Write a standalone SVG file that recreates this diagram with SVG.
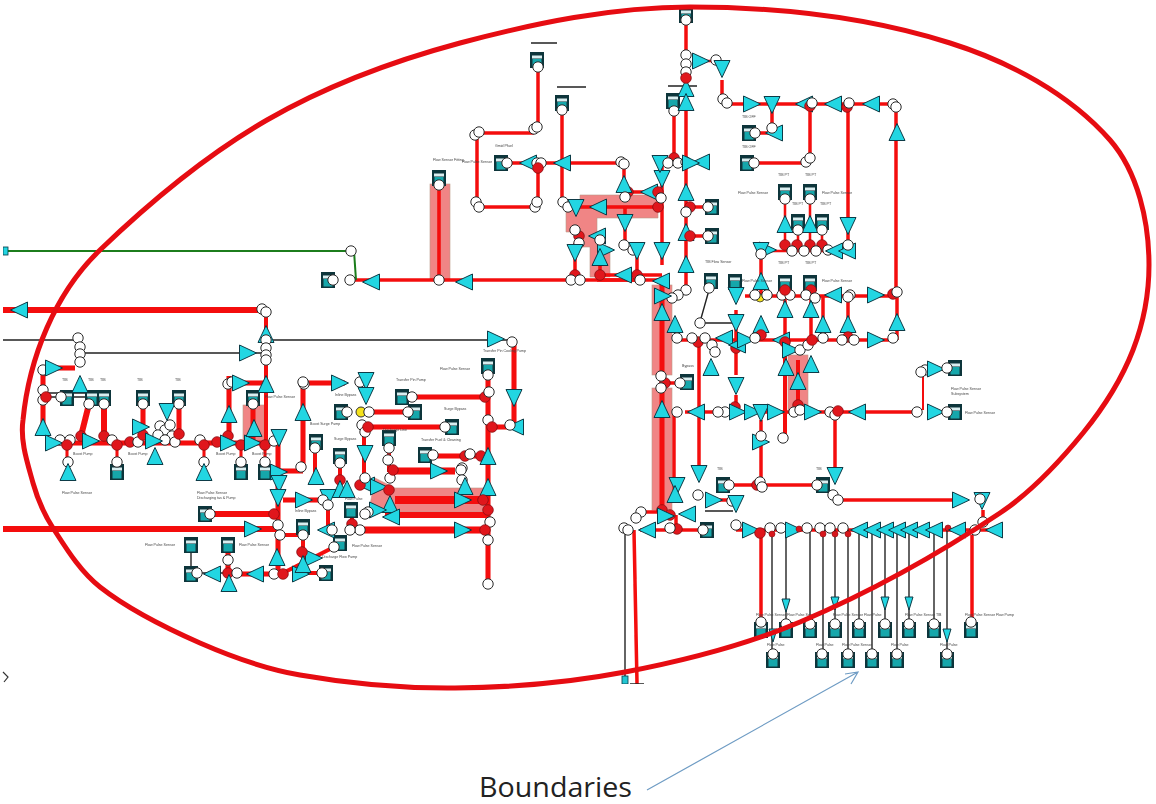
<svg xmlns="http://www.w3.org/2000/svg" width="1156" height="804" viewBox="0 0 1156 804">
<style>
.l{fill:none;stroke:#f40a0a;stroke-linecap:butt}
.k{fill:none;stroke:#222;stroke-width:1.4}
.z{fill:#f08585;stroke:#b98;stroke-width:.6}
.t{font-family:"Liberation Sans",sans-serif;font-size:3.6px;fill:#444}
</style>
<defs>
<filter id="soft" x="0" y="0" width="1" height="1" filterUnits="objectBoundingBox"><feGaussianBlur stdDeviation="0.4"/></filter>
<g id="tu"><path d="M0,-9.5 L8,7.5 L-8,7.5 Z" fill="#22d6e2" stroke="#0e3b46" stroke-width="1"/></g>
<g id="td"><path d="M0,9.5 L8,-7.5 L-8,-7.5 Z" fill="#22d6e2" stroke="#0e3b46" stroke-width="1"/></g>
<g id="tl"><path d="M-9.5,0 L7.5,-8 L7.5,8 Z" fill="#22d6e2" stroke="#0e3b46" stroke-width="1"/></g>
<g id="tr"><path d="M9.5,0 L-7.5,-8 L-7.5,8 Z" fill="#22d6e2" stroke="#0e3b46" stroke-width="1"/></g>
<g id="tn"><path d="M0,7 L4,-6 L-4,-6 Z" fill="#22d6e2" stroke="#0e3b46" stroke-width="1"/></g>
<circle id="o" r="5.2" fill="#fff" stroke="#2a2a2a" stroke-width="1"/>
<circle id="r" r="5.3" fill="#e0141a" stroke="#8a1015" stroke-width=".8"/>
<circle id="s" r="3" fill="#d8141a" stroke="#8a1015" stroke-width=".6"/>
<g id="b"><rect x="-7" y="-8" width="14" height="16" fill="#10343b"/><rect x="-5" y="-4.5" width="10" height="3" fill="#d9eef0"/><rect x="-4.5" y="-1" width="9" height="7.5" fill="#16a7ab"/></g>
</defs>
<rect width="1156" height="804" fill="#fff"/>
<g filter="url(#soft)">
<g id="zones">
<rect class="z" x="243" y="405" width="21" height="38"/>
<path class="z" d="M375,478 L395,488 L485,488 L485,512 L395,512 L370,505 Z"/>
<rect class="z" x="430" y="184" width="20" height="96"/>
<path class="z" d="M580,195 H658 V218 H597 V247 H610 V277 H590 V247 H577 V232 H566 V210 H580 Z"/>
<rect class="z" x="652" y="285" width="20" height="90"/>
<rect class="z" x="652" y="388" width="20" height="122"/>
<rect class="z" x="788" y="355" width="20" height="55"/>
</g>
<g id="connectors">
<path class="l" stroke-width="6" d="M3,310 H262"/>
<path class="l" stroke-width="4" d="M266,312 V440"/>
<path class="k" d="M3,340 H78 M84,353 H262 M268,340 H510"/>
<path class="l" stroke-width="5" d="M43,368 H75 M43,370 V430"/>
<path class="k" d="M46,397 H90 M46,393 H90"/>
<path class="l" stroke-width="5" d="M55,443 H280 M143,404 V432 M179,404 V432 M229,376 V436 M245,383 H265 M253,404 V440 M278,440 V575"/>
<path class="l" stroke-width="6" d="M104,404 V436 M89,404 L81,436"/>
<path class="l" stroke-width="3" d="M67,445 V465 M117,445 V465 M204,445 V465 M241,445 V465 M265,445 V465"/>
<path class="l" stroke-width="6" d="M210,514 H275 M3,529 H280"/>
<path class="k" d="M191,550 V572 M197,573 H225"/>
<path class="l" stroke-width="5" d="M228,550 V572 M237,574 H283"/>
<path class="l" stroke-width="5" d="M303,383 H345 M303,383 V470 M280,471 H303"/>
<path class="l" stroke-width="5" d="M366,412 H408 M410,397 H485 M368,427 H445 M433,456 H485 M488,366 V585 M514,342 V425 M492,427 H510 M283,500 H323"/>
<path class="l" stroke-width="4" d="M364,432 V480 M389,450 V472 M315,450 V480 M340,463 V485 M328,505 V530 M352,512 V525 M303,535 V575 M338,545 L285,572 M298,573 H322 M278,535 H305"/>
<path class="l" stroke-width="7" d="M393,471 H455"/>
<path class="l" stroke-width="8" d="M395,500 H485"/>
<path class="l" stroke-width="6" d="M385,515 H490"/>
<path class="l" stroke-width="7" d="M360,530 H485"/>
<path class="l" stroke-width="3.5" d="M538,68 V125 M534,133 H478 M562,110 V205 M568,207 H657 M350,280 H660 M439,180 V280"/>
<path class="l" stroke-width="3.5" d="M477,135 V203 M479,207 H535 M538,205 V163 M507,163 H622 M624,164 V190 M628,192 H658 M625,207 V245 M637,250 V275 M575,243 V280 M600,240 V275 M674,111 V158 M662,165 V265 M686,20 V290 M722,80 V100 M727,104 H896 M896,107 V295 M810,106 V160 M754,163 H808 M755,133 H772 M772,110 V130 M848,107 V240 M579,236 V245 M600,275 H662 M597,280 H637 M690,207 H705 M690,236 H705"/>
<path class="l" stroke-width="2.5" d="M700,61 H716 M757,251 H848 M785,200 V245 M810,200 V245 M798,230 V245 M822,230 V245"/>
<path class="k" d="M709,290 L700,322 M700,323 H733"/>
<path class="l" stroke-width="3.5" d="M761,252 V295 M745,296 H896 M785,295 V340 M811,295 V340 M823,295 V340 M848,295 V340 M677,340 H897 M897,295 V340 M736,310 V375 M736,395 V407 M685,412 H735 M745,412 H915 M674,412 V490 M699,342 V465 M720,500 H733 M761,420 V480 M730,485 H820 M835,415 V480 M838,500 H965 M983,510 V522 M846,412 H915"/>
<path class="l" stroke-width="4" d="M785,438 V342 M798,360 V405"/>
<path class="l" stroke-width="5" d="M662,280 V505"/>
<path class="l" stroke-width="3.5" d="M665,383 H685 M640,530 H700 M634,530 L637,684 M736,530 H1000 M641,512 H662 M676,530 V515"/>
<path class="k" d="M625,530 V678 M630,684 H644"/>
<path class="l" stroke-width="3.5" d="M761,535 V625 M972,535 V625"/>
<path class="k" d="M772,530 V655 M786,530 V625 M810,530 V625 M823,530 V655 M835,530 V625 M848,530 V655 M859,530 V625 M872,530 V655 M885,530 V625 M897,530 V655 M909,530 V625 M934,530 V625 M947,530 V655"/>
<path d="M3,251 H350 M354,251 L356,280" fill="none" stroke="#1a7d1a" stroke-width="2"/>
<path class="k" d="M531,43 H557 M557,87 H586 M668,86 H697 M705,511 H733"/>
<path class="l" stroke-width="2" d="M925,372 L947,368 M923,375 V410 M930,412 H947"/>
</g>
<g id="n1"><use href="#b" x="67" y="398"/></g><g id="n2"><use href="#b" x="92" y="398"/></g><g id="n3"><use href="#b" x="104" y="398"/></g><g id="n4"><use href="#b" x="143" y="398"/></g><g id="n5"><use href="#b" x="179" y="398"/></g><g id="n6"><use href="#b" x="253" y="398"/></g>
<g id="n7"><use href="#b" x="117" y="472"/></g><g id="n8"><use href="#b" x="241" y="472"/></g><g id="n9"><use href="#b" x="265" y="472"/></g><g id="n10"><use href="#b" x="205" y="514"/></g>
<g id="n11"><use href="#b" x="191" y="545"/></g><g id="n12"><use href="#b" x="191" y="574"/></g><g id="n13"><use href="#b" x="228" y="545"/></g>
<g id="n14"><use href="#b" x="341" y="412"/></g><g id="n15"><use href="#b" x="402" y="397"/></g><g id="n16"><use href="#b" x="415" y="412"/></g><g id="n17"><use href="#b" x="452" y="427"/></g><g id="n18"><use href="#b" x="425" y="455"/></g><g id="n19"><use href="#b" x="488" y="366"/></g>
<g id="n20"><use href="#b" x="389" y="438"/></g><g id="n21"><use href="#b" x="316" y="442"/></g><g id="n22"><use href="#b" x="340" y="456"/></g><g id="n23"><use href="#b" x="351" y="510"/></g><g id="n24"><use href="#b" x="303" y="527"/></g><g id="n25"><use href="#b" x="340" y="543"/></g><g id="n26"><use href="#b" x="326" y="573"/></g>
<g id="n27"><use href="#b" x="439" y="178"/></g><g id="n28"><use href="#b" x="537" y="60"/></g><g id="n29"><use href="#b" x="562" y="103"/></g><g id="n30"><use href="#b" x="501" y="163"/></g><g id="n31"><use href="#b" x="673" y="101"/></g><g id="n32"><use href="#b" x="686" y="15"/></g><g id="n33"><use href="#b" x="328" y="280"/></g>
<g id="n34"><use href="#b" x="749" y="133"/></g><g id="n35"><use href="#b" x="747" y="163"/></g><g id="n36"><use href="#b" x="785" y="192"/></g><g id="n37"><use href="#b" x="810" y="192"/></g><g id="n38"><use href="#b" x="798" y="222"/></g><g id="n39"><use href="#b" x="822" y="222"/></g>
<g id="n40"><use href="#b" x="711" y="281"/></g><g id="n41"><use href="#b" x="735" y="282"/></g><g id="n42"><use href="#b" x="785" y="283"/></g><g id="n43"><use href="#b" x="810" y="283"/></g>
<g id="n44"><use href="#b" x="687" y="382"/></g><g id="n45"><use href="#b" x="723" y="485"/></g><g id="n46"><use href="#b" x="823" y="485"/></g><g id="n47"><use href="#b" x="707" y="530"/></g>
<g id="n48"><use href="#b" x="955" y="368"/></g><g id="n49"><use href="#b" x="955" y="412"/></g>
<g id="n50"><use href="#b" x="761" y="630"/></g><g id="n51"><use href="#b" x="786" y="630"/></g><g id="n52"><use href="#b" x="810" y="630"/></g><g id="n53"><use href="#b" x="835" y="630"/></g><g id="n54"><use href="#b" x="859" y="630"/></g><g id="n55"><use href="#b" x="885" y="630"/></g><g id="n56"><use href="#b" x="909" y="630"/></g><g id="n57"><use href="#b" x="934" y="630"/></g><g id="n58"><use href="#b" x="971" y="630"/></g>
<g id="n59"><use href="#b" x="773" y="660"/></g><g id="n60"><use href="#b" x="822" y="660"/></g><g id="n61"><use href="#b" x="848" y="660"/></g><g id="n62"><use href="#b" x="872" y="660"/></g><g id="n63"><use href="#b" x="897" y="660"/></g><g id="n64"><use href="#b" x="947" y="660"/></g>
<g id="n65"><use href="#b" x="712" y="207"/></g><g id="n66"><use href="#b" x="712" y="236"/></g>
<g id="valves-left">
<use href="#tl" x="20" y="310"/>
<use href="#o" x="262" y="309"/><use href="#o" x="266" y="312"/>
<use href="#o" x="78" y="338"/><use href="#o" x="80" y="347"/><use href="#o" x="80" y="354"/><use href="#o" x="80" y="362"/>
<use href="#tr" x="247" y="353"/>
<use href="#tu" x="266" y="335"/><use href="#o" x="266" y="340"/><use href="#o" x="266" y="348"/><use href="#o" x="266" y="355"/><use href="#o" x="266" y="360"/>
<use href="#o" x="43" y="370"/><use href="#tr" x="53" y="368"/><use href="#tu" x="80" y="385"/>
<use href="#o" x="43" y="390"/><use href="#o" x="43" y="400"/><use href="#r" x="46" y="397"/><use href="#o" x="61" y="397"/>
<use href="#tu" x="43" y="428"/>
<use href="#o" x="60" y="440"/><use href="#o" x="70" y="440"/><use href="#tr" x="53" y="443"/><use href="#r" x="67" y="445"/><use href="#r" x="81" y="436"/>
<use href="#tr" x="90" y="441"/><use href="#r" x="104" y="436"/><use href="#o" x="112" y="440"/><use href="#r" x="117" y="445"/><use href="#r" x="130" y="442"/>
<use href="#o" x="138" y="442"/><use href="#r" x="143" y="435"/><use href="#tr" x="140" y="427"/>
<use href="#o" x="160" y="426"/><use href="#o" x="165" y="430"/><use href="#o" x="158" y="435"/><use href="#o" x="170" y="425"/><use href="#o" x="172" y="436"/><use href="#o" x="165" y="440"/>
<use href="#td" x="167" y="411"/><use href="#tr" x="153" y="441"/><use href="#tu" x="155" y="457"/>
<use href="#o" x="175" y="442"/><use href="#r" x="179" y="434"/>
<use href="#o" x="200" y="440"/><use href="#r" x="204" y="445"/><use href="#r" x="217" y="442"/><use href="#r" x="228" y="436"/><use href="#tr" x="228" y="443"/><use href="#r" x="241" y="445"/><use href="#tr" x="252" y="443"/><use href="#r" x="265" y="445"/><use href="#o" x="274" y="441"/>
<use href="#o" x="68" y="462"/><use href="#tu" x="68" y="473"/><use href="#o" x="117" y="462"/><use href="#o" x="204" y="462"/><use href="#tu" x="204" y="473"/><use href="#o" x="241" y="462"/><use href="#o" x="265" y="462"/>
<use href="#o" x="143" y="404"/><use href="#o" x="179" y="404"/><use href="#o" x="89" y="404"/><use href="#o" x="104" y="404"/>
<use href="#tu" x="229" y="415"/><use href="#o" x="228" y="384"/><use href="#o" x="232" y="382"/><use href="#tr" x="240" y="383"/><use href="#tu" x="266" y="385"/><use href="#o" x="253" y="404"/><use href="#tu" x="254" y="429"/>
<use href="#td" x="279" y="437"/><use href="#tr" x="278" y="472"/><use href="#td" x="279" y="483"/><use href="#td" x="278" y="497"/><use href="#r" x="274" y="514"/><use href="#o" x="278" y="525"/><use href="#o" x="280" y="535"/><use href="#tu" x="277" y="558"/>
<use href="#tr" x="252" y="529"/><use href="#o" x="210" y="514"/>
<use href="#tl" x="213" y="574"/><use href="#o" x="197" y="573"/><use href="#o" x="228" y="560"/><use href="#r" x="228" y="573"/><use href="#o" x="237" y="573"/><use href="#tu" x="229" y="584"/><use href="#tl" x="256" y="574"/><use href="#o" x="274" y="574"/><use href="#r" x="283" y="574"/>
</g>
<g id="valves-centre">
<use href="#o" x="304" y="384"/><use href="#o" x="303" y="382"/><use href="#tr" x="339" y="383"/><use href="#tu" x="303" y="413"/><use href="#o" x="301" y="467"/>
<use href="#o" x="360" y="382"/><use href="#td" x="366" y="380"/><use href="#td" x="366" y="395"/>
<use href="#o" x="347" y="412"/><circle cx="361" cy="412" r="5" fill="#f4e21e" stroke="#333"/><use href="#o" x="369" y="412"/><use href="#o" x="408" y="412"/>
<use href="#o" x="412" y="397"/><use href="#r" x="485" y="397"/><use href="#o" x="489" y="392"/>
<use href="#o" x="362" y="425"/><use href="#o" x="365" y="432"/><use href="#r" x="368" y="427"/><use href="#o" x="445" y="427"/>
<use href="#td" x="365" y="453"/><use href="#o" x="389" y="448"/><use href="#o" x="388" y="460"/><use href="#o" x="390" y="478"/><use href="#r" x="393" y="470"/><use href="#tr" x="438" y="471"/>
<use href="#o" x="462" y="468"/><use href="#o" x="461" y="470"/><use href="#o" x="462" y="480"/>
<use href="#o" x="433" y="455"/><use href="#r" x="465" y="456"/><use href="#o" x="470" y="454"/><use href="#r" x="481" y="456"/>
<use href="#tu" x="465" y="487"/><use href="#tr" x="462" y="500"/>
<use href="#o" x="488" y="375"/><use href="#o" x="488" y="420"/><use href="#r" x="492" y="427"/><use href="#tu" x="488" y="457"/><use href="#tu" x="488" y="488"/><use href="#r" x="483" y="500"/><use href="#r" x="488" y="510"/><use href="#o" x="490" y="522"/><use href="#r" x="485" y="530"/><use href="#o" x="488" y="540"/><use href="#o" x="488" y="584"/>
<use href="#td" x="514" y="397"/><use href="#tl" x="516" y="427"/><use href="#o" x="510" y="425"/>
<use href="#o" x="512" y="342"/><use href="#tr" x="495" y="339"/>
<use href="#o" x="315" y="448"/><use href="#tu" x="316" y="477"/><use href="#o" x="340" y="463"/><use href="#r" x="340" y="480"/><use href="#tu" x="340" y="490"/><use href="#tu" x="347" y="490"/>
<use href="#td" x="328" y="497"/><use href="#o" x="323" y="500"/><use href="#o" x="328" y="505"/><use href="#tr" x="303" y="500"/>
<use href="#tl" x="327" y="530"/><use href="#o" x="332" y="530"/><use href="#r" x="352" y="524"/><use href="#o" x="360" y="530"/><use href="#o" x="350" y="530"/>
<use href="#tl" x="367" y="485"/><use href="#tr" x="378" y="487"/><use href="#r" x="360" y="485"/><use href="#o" x="365" y="478"/>
<use href="#tu" x="390" y="505"/><use href="#tr" x="377" y="510"/><use href="#o" x="368" y="512"/><use href="#o" x="365" y="514"/><use href="#tl" x="392" y="517"/><use href="#r" x="389" y="490"/>
<use href="#tr" x="462" y="530"/>
<use href="#o" x="334" y="547"/><use href="#o" x="322" y="573"/><use href="#tr" x="300" y="574"/><use href="#tr" x="313" y="558"/><use href="#r" x="302" y="552"/><use href="#o" x="303" y="535"/><use href="#tu" x="303" y="565"/>
</g>
<g id="valves-top">
<use href="#o" x="333" y="280"/><use href="#o" x="350" y="280"/><use href="#o" x="351" y="251"/><rect x="3" y="247" width="5" height="8" fill="#22d6e2" stroke="#0e3b46" stroke-width=".8"/><use href="#tl" x="372" y="282"/><use href="#o" x="439" y="185"/><use href="#o" x="439" y="280"/><use href="#tl" x="465" y="282"/>
<use href="#o" x="538" y="67"/><use href="#o" x="534" y="129"/><use href="#o" x="537" y="127"/><use href="#o" x="475" y="135"/><use href="#o" x="479" y="132"/><use href="#o" x="476" y="202"/><use href="#o" x="479" y="207"/><use href="#o" x="535" y="207"/><use href="#o" x="537" y="202"/>
<use href="#o" x="507" y="163"/><use href="#tl" x="529" y="163"/><use href="#o" x="537" y="163"/><use href="#o" x="541" y="163"/><use href="#r" x="538" y="168"/><use href="#tl" x="563" y="163"/><use href="#o" x="621" y="162"/><use href="#o" x="624" y="164"/>
<use href="#o" x="562" y="110"/><use href="#o" x="563" y="202"/><use href="#o" x="568" y="207"/><use href="#td" x="576" y="207"/><use href="#tl" x="599" y="207"/>
<use href="#tl" x="650" y="192"/><use href="#r" x="628" y="192"/><use href="#r" x="658" y="192"/><use href="#tu" x="624" y="185"/><use href="#o" x="625" y="197"/><use href="#r" x="658" y="207"/><use href="#o" x="661" y="198"/>
<use href="#td" x="625" y="222"/><use href="#o" x="624" y="245"/><use href="#o" x="633" y="250"/><use href="#td" x="637" y="250"/><use href="#tr" x="605" y="250"/>
<use href="#r" x="637" y="275"/><use href="#o" x="640" y="280"/><use href="#tl" x="624" y="275"/>
<use href="#r" x="579" y="236"/><use href="#o" x="575" y="230"/><use href="#o" x="579" y="243"/><use href="#td" x="575" y="252"/><use href="#r" x="575" y="275"/><use href="#o" x="571" y="280"/><use href="#o" x="580" y="280"/>
<use href="#r" x="600" y="275"/><use href="#tu" x="600" y="258"/><use href="#tl" x="598" y="236"/><use href="#o" x="600" y="240"/>
<use href="#td" x="662" y="250"/><use href="#td" x="662" y="178"/><use href="#td" x="660" y="163"/><use href="#r" x="674" y="158"/><use href="#o" x="674" y="111"/>
<use href="#o" x="668" y="163"/><use href="#o" x="678" y="163"/><use href="#o" x="686" y="162"/><use href="#tl" x="702" y="162"/><use href="#tr" x="690" y="163"/>
<use href="#tu" x="686" y="89"/><use href="#tu" x="686" y="103"/><use href="#o" x="686" y="20"/><use href="#o" x="686" y="55"/><use href="#o" x="686" y="64"/><use href="#o" x="686" y="72"/><use href="#tr" x="700" y="61"/><use href="#o" x="716" y="60"/><use href="#td" x="722" y="68"/><use href="#r" x="686" y="78"/>
<use href="#tu" x="686" y="193"/><use href="#r" x="690" y="207"/><use href="#o" x="686" y="212"/><use href="#o" x="708" y="207"/>
<use href="#tu" x="686" y="233"/><use href="#r" x="690" y="236"/><use href="#o" x="708" y="236"/>
<use href="#tu" x="686" y="265"/><use href="#o" x="686" y="290"/><use href="#o" x="678" y="295"/><use href="#o" x="672" y="298"/>
<use href="#tl" x="662" y="281"/><use href="#tr" x="662" y="296"/><use href="#tu" x="662" y="313"/><use href="#tu" x="675" y="325"/>
</g>
<g id="valves-right">
<use href="#o" x="723" y="99"/><use href="#o" x="727" y="103"/><use href="#tr" x="751" y="104"/><use href="#td" x="772" y="104"/><use href="#tl" x="805" y="104"/><use href="#r" x="810" y="106"/><use href="#o" x="812" y="103"/><use href="#tl" x="834" y="104"/><use href="#r" x="847" y="107"/><use href="#o" x="849" y="103"/><use href="#tl" x="872" y="104"/><use href="#o" x="893" y="104"/><use href="#o" x="896" y="107"/>
<use href="#tu" x="897" y="133"/><use href="#o" x="754" y="163"/><use href="#o" x="755" y="133"/><use href="#tl" x="775" y="133"/><use href="#o" x="772" y="128"/><use href="#o" x="806" y="162"/><use href="#o" x="810" y="158"/>
<use href="#td" x="848" y="225"/><use href="#tr" x="767" y="250"/><use href="#td" x="761" y="250"/><use href="#o" x="761" y="254"/>
<use href="#r" x="785" y="245"/><use href="#r" x="797" y="245"/><use href="#r" x="810" y="245"/><use href="#r" x="822" y="245"/><use href="#o" x="792" y="251"/><use href="#o" x="804" y="251"/><use href="#o" x="816" y="251"/><use href="#o" x="828" y="250"/><use href="#tl" x="835" y="251"/><use href="#tl" x="848" y="251"/><use href="#o" x="848" y="245"/>
<use href="#tu" x="785" y="225"/><use href="#tu" x="810" y="225"/><use href="#o" x="785" y="199"/><use href="#o" x="810" y="199"/>
<use href="#o" x="798" y="230"/><use href="#o" x="822" y="230"/>
<use href="#tu" x="761" y="282"/><use href="#td" x="736" y="295"/><use href="#o" x="709" y="288"/><use href="#o" x="700" y="323"/>
<circle cx="760" cy="298" r="4" fill="#f4e21e" stroke="#333" stroke-width=".8"/><use href="#o" x="755" y="295"/><use href="#o" x="767" y="295"/><use href="#o" x="782" y="295"/><use href="#o" x="790" y="295"/><use href="#r" x="785" y="290"/><use href="#r" x="811" y="290"/><use href="#o" x="806" y="295"/><use href="#o" x="815" y="298"/><use href="#tl" x="834" y="295"/><use href="#o" x="850" y="295"/><use href="#o" x="848" y="297"/><use href="#tr" x="875" y="295"/><use href="#r" x="893" y="294"/><use href="#o" x="897" y="292"/>
<use href="#tu" x="785" y="310"/><use href="#tu" x="811" y="310"/>
<use href="#tu" x="761" y="325"/><use href="#r" x="761" y="335"/><use href="#tu" x="823" y="325"/><use href="#tu" x="848" y="325"/><use href="#r" x="848" y="337"/><use href="#tu" x="897" y="323"/><use href="#o" x="893" y="338"/><use href="#tr" x="875" y="340"/><use href="#o" x="842" y="340"/><use href="#o" x="854" y="340"/><use href="#o" x="823" y="338"/>
<use href="#o" x="677" y="338"/><use href="#r" x="698" y="342"/><use href="#o" x="692" y="338"/><use href="#o" x="705" y="338"/><use href="#tl" x="725" y="338"/><use href="#td" x="736" y="322"/><use href="#r" x="736" y="348"/><use href="#o" x="712" y="345"/><use href="#o" x="715" y="352"/><use href="#tu" x="711" y="368"/><use href="#tl" x="738" y="345"/>
<use href="#tr" x="745" y="340"/><use href="#o" x="755" y="338"/><use href="#tl" x="782" y="340"/><use href="#r" x="785" y="342"/><use href="#tr" x="790" y="350"/><use href="#o" x="800" y="350"/><use href="#o" x="808" y="345"/><use href="#r" x="812" y="340"/><use href="#tu" x="786" y="368"/><use href="#tu" x="811" y="365"/><use href="#tu" x="798" y="382"/><use href="#r" x="798" y="405"/>
<use href="#td" x="736" y="385"/><use href="#r" x="735" y="407"/><use href="#o" x="725" y="412"/><use href="#o" x="718" y="412"/><use href="#tr" x="737" y="412"/><use href="#tl" x="697" y="412"/><use href="#o" x="677" y="412"/><use href="#tr" x="752" y="412"/><use href="#td" x="761" y="412"/><use href="#tr" x="775" y="412"/><use href="#o" x="794" y="412"/><use href="#o" x="800" y="410"/><use href="#tr" x="812" y="412"/><use href="#o" x="830" y="412"/><use href="#o" x="835" y="415"/><use href="#r" x="838" y="411"/><use href="#tl" x="858" y="412"/><use href="#o" x="917" y="412"/>
<use href="#tr" x="760" y="442"/><use href="#o" x="783" y="438"/><use href="#o" x="761" y="436"/>
<use href="#tr" x="935" y="412"/><use href="#o" x="947" y="412"/><use href="#o" x="925" y="370"/><use href="#o" x="921" y="372"/><use href="#tr" x="935" y="369"/><use href="#o" x="947" y="368"/>
<use href="#td" x="699" y="473"/><use href="#td" x="835" y="475"/><use href="#o" x="833" y="495"/><use href="#o" x="838" y="500"/><use href="#tr" x="960" y="500"/><use href="#td" x="982" y="500"/><use href="#o" x="980" y="499"/>
<use href="#o" x="729" y="485"/><use href="#r" x="757" y="485"/><use href="#o" x="760" y="482"/><use href="#o" x="762" y="487"/><use href="#o" x="817" y="485"/>
<use href="#o" x="698" y="495"/><use href="#tr" x="713" y="500"/><use href="#o" x="732" y="501"/><use href="#td" x="736" y="503"/>
<use href="#tu" x="662" y="410"/><use href="#r" x="665" y="383"/><use href="#o" x="661" y="376"/><use href="#o" x="661" y="388"/><use href="#o" x="680" y="383"/>
<use href="#td" x="677" y="485"/><use href="#tu" x="675" y="495"/>
</g>
<g id="valves-bottom">
<use href="#o" x="641" y="512"/><use href="#o" x="636" y="518"/><use href="#o" x="624" y="528"/><use href="#o" x="628" y="530"/><use href="#r" x="662" y="510"/><use href="#r" x="670" y="515"/><use href="#r" x="677" y="529"/><use href="#o" x="670" y="528"/><use href="#tl" x="648" y="530"/><use href="#tl" x="688" y="514"/><use href="#tr" x="665" y="516"/><use href="#o" x="703" y="530"/>
<use href="#o" x="736" y="525"/><use href="#tr" x="750" y="530"/><use href="#r" x="760" y="533"/><use href="#o" x="770" y="528"/><use href="#o" x="781" y="528"/><use href="#tr" x="793" y="530"/><use href="#o" x="807" y="528"/><use href="#o" x="820" y="528"/><use href="#o" x="830" y="528"/><use href="#o" x="843" y="528"/>
<use href="#s" x="772" y="534"/><use href="#s" x="799" y="529"/><use href="#s" x="823" y="534"/><use href="#s" x="835" y="534"/><use href="#s" x="848" y="534"/>
<use href="#tl" x="860" y="530"/><use href="#tl" x="873" y="530"/><use href="#tl" x="886" y="530"/><use href="#tl" x="898" y="530"/><use href="#tl" x="910" y="530"/><use href="#tl" x="922" y="530"/><use href="#tl" x="935" y="530"/><use href="#s" x="948" y="528"/><use href="#tl" x="958" y="530"/><use href="#o" x="975" y="530"/><use href="#o" x="983" y="522"/><use href="#tl" x="995" y="530"/>
<use href="#tn" x="786" y="605"/><use href="#tn" x="835" y="603"/><use href="#tn" x="885" y="603"/><use href="#tn" x="909" y="603"/><use href="#tn" x="773" y="635"/><use href="#tn" x="947" y="635"/>
<use href="#o" x="761" y="622"/><use href="#o" x="786" y="624"/><use href="#o" x="810" y="624"/><use href="#o" x="835" y="624"/><use href="#o" x="859" y="624"/><use href="#o" x="885" y="624"/><use href="#o" x="909" y="624"/><use href="#o" x="934" y="624"/><use href="#o" x="971" y="622"/>
<use href="#o" x="773" y="654"/><use href="#o" x="822" y="654"/><use href="#o" x="848" y="654"/><use href="#o" x="872" y="654"/><use href="#o" x="897" y="654"/><use href="#o" x="947" y="654"/>
<rect x="622" y="676" width="6" height="8" fill="#22c6d2" stroke="#0e3b46" stroke-width=".8"/>
</g>
<g id="labels">
<text class="t" x="62" y="381">TIB</text><text class="t" x="88" y="381">TIB</text><text class="t" x="100" y="381">TIB</text><text class="t" x="137" y="381">TIB</text><text class="t" x="175" y="381">TIB</text>
<text class="t" x="73" y="455">Boost Pump</text><text class="t" x="128" y="455">Boost Pump</text><text class="t" x="216" y="455">Boost Pump</text><text class="t" x="252" y="455">Boost Pump</text>
<text class="t" x="62" y="494">Flow Pulse Sensor</text><text class="t" x="197" y="494">Flow Pulse Sensor</text><text class="t" x="197" y="499">Discharging tas &amp; Pump</text>
<text class="t" x="145" y="546">Flow Pulse Sensor</text><text class="t" x="239" y="546">Flow Pulse Sensor</text><text class="t" x="265" y="398">Flow Pulse Sensor</text>
<text class="t" x="335" y="396">Inline Bypass</text><text class="t" x="310" y="425">Boost Surge Pump</text><text class="t" x="334" y="440">Surge Bypass</text><text class="t" x="383" y="431">Discharge Line</text><text class="t" x="396" y="381">Transfer Pin Pump</text><text class="t" x="444" y="410">Surge Bypass</text><text class="t" x="421" y="441">Transfer Fuel &amp; Cleaning</text><text class="t" x="440" y="370">Flow Pulse Sensor</text>
<text class="t" x="483" y="352">Transfer Pin Cooling Pump</text><text class="t" x="295" y="512">Inline Bypass</text><text class="t" x="345" y="500">Flow Pulse</text><text class="t" x="352" y="547">Flow Pulse Sensor</text><text class="t" x="322" y="558">Discharge Flow Pump</text>
<text class="t" x="433" y="161">Flow Sensor Fitting</text><text class="t" x="495" y="147">Gmid  Pfuel</text><text class="t" x="462" y="163">Flow Pulse Sensor</text>
<text class="t" x="742" y="118">TIB OFF</text><text class="t" x="742" y="148">TIB OFF</text><text class="t" x="778" y="176">TIB PT</text><text class="t" x="805" y="176">TIB PT</text><text class="t" x="738" y="194">Flow Pulse Sensor</text><text class="t" x="822" y="194">Flow Pulse Sensor</text><text class="t" x="792" y="205">TIB PT</text><text class="t" x="820" y="205">TIB PT</text>
<text class="t" x="705" y="263">TIB Flow Sensor</text><text class="t" x="742" y="282">Flow Pulse Sensor</text><text class="t" x="778" y="264">TIB PT</text><text class="t" x="805" y="264">TIB PT</text><text class="t" x="822" y="282">Flow Pulse Sensor</text>
<text class="t" x="682" y="367">Bypass</text><text class="t" x="717" y="470">TIB</text><text class="t" x="816" y="470">TIB</text>
<text class="t" x="951" y="390">Flow Pulse Sensor</text><text class="t" x="951" y="395">Subsystem</text><text class="t" x="965" y="414">Flow Pulse Sensor</text>
<text class="t" x="756" y="616">Flow Pulse Sensor Flow Pulse Sensor</text><text class="t" x="833" y="616">Flow Pulse Sensor Flow Pulse</text><text class="t" x="905" y="616">Flow Pulse Sensor TIB</text><text class="t" x="965" y="616">Flow Pulse Sensor Flow Pump</text>
<text class="t" x="767" y="646">Flow Pulse</text><text class="t" x="816" y="646">Flow Pulse</text><text class="t" x="842" y="646">Flow Pulse Sensor</text><text class="t" x="891" y="646">Flow Pulse</text><text class="t" x="940" y="646">Flow Pulse</text>
</g>
</g>
<g id="boundary">
<path d="M23,420 C29,358 55,293 100,250 C151,201 205.9,155.2 267,120 C327,85.4 393,61 460,43 C535,23 612.4,7 690,7 C777.5,7 866.6,16.6 950,43 C1009.5,61.8 1069,93.5 1110,140 C1138,172 1149,222 1149,265 C1149,294 1143.4,323.1 1133,350 C1121.3,380.1 1103.4,407.9 1083,433 C1058.7,462.8 1032,491.6 1000,513 C936.9,555.2 869.9,592.3 800,622 C744.1,645.7 684.7,660.6 625,672 C569,682.7 511.9,687.5 455,688 C403.2,688.5 351,684 300,675 C265.5,669 232,657 200,643 C165,627.6 130,610.5 100,587 C80.2,571.5 66.6,549 53,528 C44.1,514.2 37.4,498.8 33,483 C27.3,462.5 20,441 23,420 Z" fill="none" stroke="#e60c12" stroke-width="5"/>
</g>
<g id="annotation">
<path d="M647,790 L858,672 M845,674 L858,672 L851,684" fill="none" stroke="#6f9cc4" stroke-width="1.2"/>
<text x="479" y="797" font-family="'Open Sans',Lato,sans-serif" font-size="27" textLength="153" lengthAdjust="spacingAndGlyphs" fill="#222">Boundaries</text>
</g>
<path d="M3,672 L8,677 L4,682" fill="none" stroke="#333" stroke-width="1.2"/>
</svg>
